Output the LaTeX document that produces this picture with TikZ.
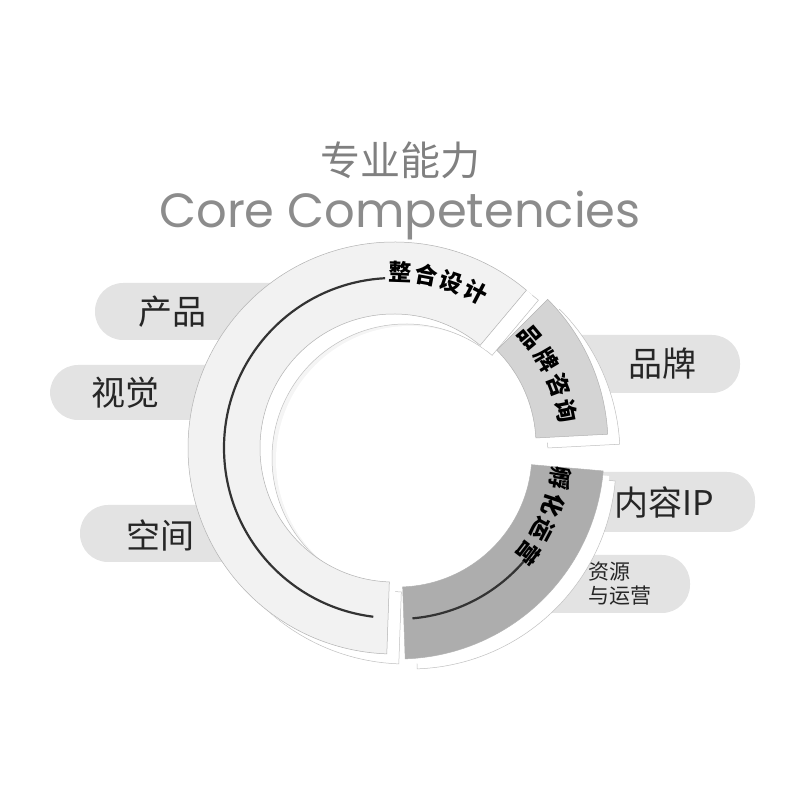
\documentclass[tikz,border=0pt]{standalone}
\usepackage{fontspec}
\setmainfont{Poppins}
\newfontfamily\cjk{Noto Sans CJK SC}
\usetikzlibrary{calc}
\begin{document}
\begin{tikzpicture}[x=1pt,y=1pt,
  pill/.style={fill=black!11,draw=none,rounded corners=28pt},
  lab/.style={font=\cjk\fontsize{34}{34}\selectfont,text=black!85},
  seg/.style={draw=black!30,line width=0.5pt},
  side/.style={fill=white,draw=black!25,line width=0.5pt},
  ch/.style={font=\cjk\bfseries\fontsize{23}{23}\selectfont,inner sep=0pt},
  arcline/.style={draw=black!80,line width=2.2pt}]
\useasboundingbox (0,0) rectangle (800,800);
% pills
\fill[pill] (95,460) rectangle (300,517);
\fill[pill] (50,380) rectangle (260,435);
\fill[pill] (80,238) rectangle (270,295);
\fill[pill] (540,407) rectangle (740,465);
\fill[pill] (540,268) rectangle (755,328);
\fill[pill] (520,187) rectangle (690,245);
\node[lab] (p1) at (172,488) {产品};
\node[lab] (p2) at (125,407) {视觉};
\node[lab] (p3) at (160,265) {空间};
\node[lab] (p4) at (662,436) {品牌};
\node[lab] (p5) at (664,298) {内容IP};
\node[font=\cjk\fontsize{21}{24}\selectfont,text=black!85,align=left] (p6) at (620,216) {资源\\与运营};
% titles
\node[font=\cjk\fontsize{40}{40}\selectfont,text=black!50] (t1) at (400,640) {专业能力};
\node[font=\fontsize{48}{48}\selectfont,text=black!45] (t2) at (400,585) {Core Competencies};
% segments
\newcommand{\segshape}[5]{%
  ($#1+(#2:#4)$) arc[start angle=#2,end angle=#3,radius=#4] -- ($#1+(#3:#5)$) arc[start angle=#3,end angle=#2,radius=#5] -- cycle}
\coordinate (cA) at (394,352);
\coordinate (cB) at (402,355);
\coordinate (cC) at (398,347);
% inner wall
\path[fill=black!4,draw=black!20,line width=0.4pt] (cA) circle[radius=134];
\fill[white] ($(cA)+(16,-12)$) circle[radius=134];
\foreach \cc/\aa/\bb in {cA/50/268, cB/3/45, cC/-88/-5}{
  \path[side] \segshape{(\cc)+(12,-10)}{\aa}{\bb}{206}{134};
  \fill[white] \segshape{(\cc)+(6,-5)}{\aa}{\bb}{206}{134};
}
\path[seg,fill=black!5] \segshape{(cA)}{50}{268}{206}{134};
\path[seg,fill=black!17] \segshape{(cB)}{3}{45}{206}{134};
\path[seg,fill=black!32] \segshape{(cC)}{-88}{-5}{206}{134};
% arc lines
\draw[arcline] ($(cA)+(93:170)$) arc[start angle=93,end angle=263,radius=170];
\draw[arcline] ($(cC)+(-41:166)$) arc[start angle=-41,end angle=-85,radius=166];
% arc texts
\foreach \t/\a in {整/88,合/79.5,设/71,计/62.5}
  \node[ch,rotate=\a-90] at ($(cA)+(\a:176)$) {\t};
\foreach \t/\a in {品/40,牌/30.5,咨/21,询/11.5}
  \node[ch,rotate=\a-90] at ($(cB)+(\a:168)$) {\t};
\foreach \t/\a in {孵/-9,化/-18.5,运/-28,营/-37.5}
  \node[ch,rotate=\a-90] at ($(cC)+(\a:164)$) {\t};
\end{tikzpicture}
\end{document}
